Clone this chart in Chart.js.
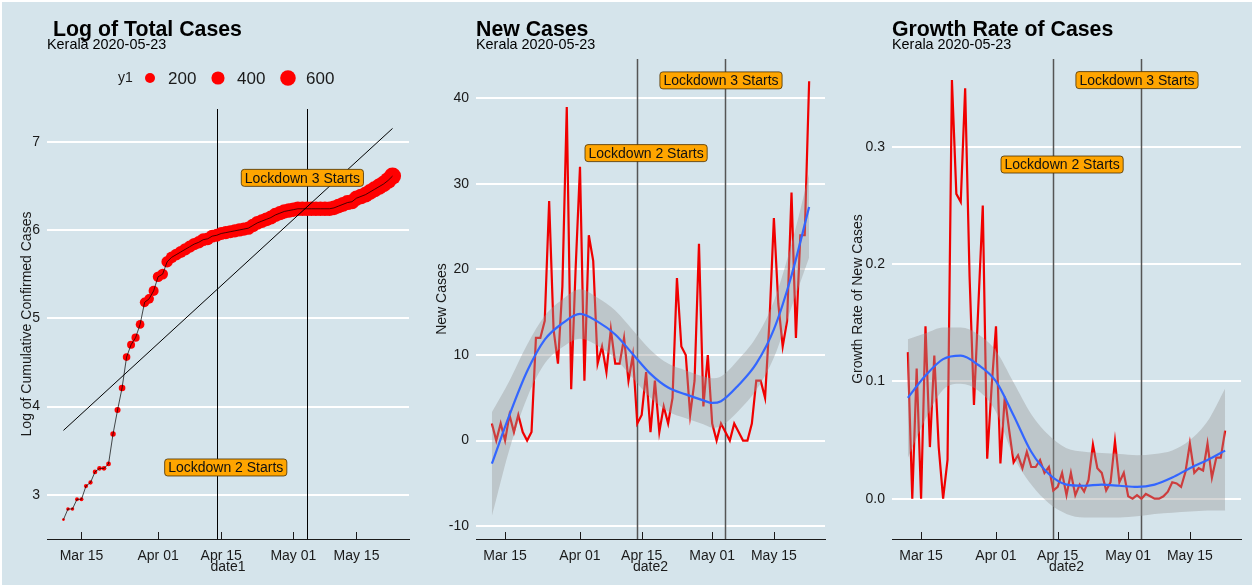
<!DOCTYPE html>
<html>
<head>
<meta charset="utf-8">
<title>Kerala COVID-19 cases</title>
<script src="https://cdn.jsdelivr.net/npm/chart.js@4.4.0/dist/chart.umd.min.js"></script>
<style>
  html, body { margin: 0; padding: 0; background: #d5e4eb; }
  #wrap { position: relative; width: 1254px; height: 587px; }
  .panel { position: absolute; top: 0; width: 418px; height: 587px; }
  #frame {
    position: absolute; left: 0; top: 0; width: 1254px; height: 587px;
    box-sizing: border-box; border: 2px solid #ffffff; pointer-events: none;
  }
</style>
</head>
<body>
<div id="wrap">
  <div class="panel" style="left:0"><canvas id="totalChart" width="418" height="587"></canvas></div>
  <div class="panel" style="left:418px"><canvas id="newChart" width="418" height="587"></canvas></div>
  <div class="panel" style="left:836px"><canvas id="growthChart" width="418" height="587"></canvas></div>
  <div id="frame"></div>
</div>
<script>
// Days are counted from 1 March 2020 (11 Mar = 10, 23 May = 83)
const totalStartDay = 10;
const dailyStartDay = 11;

// log of cumulative confirmed cases, 11 Mar .. 23 May
const logTotalCases = [
  2.72, 2.84, 2.84, 2.95, 2.95, 3.10, 3.14, 3.26, 3.30, 3.30,
  3.35, 3.69, 3.96, 4.21, 4.56, 4.70, 4.78, 4.93, 5.18, 5.22,
  5.31, 5.47, 5.50, 5.64, 5.69, 5.72, 5.75, 5.78, 5.81, 5.84,
  5.86, 5.89, 5.90, 5.93, 5.94, 5.96, 5.97, 5.98, 5.99, 6.00,
  6.01, 6.02, 6.05, 6.08, 6.10, 6.12, 6.14, 6.17, 6.19, 6.21,
  6.22, 6.23, 6.24, 6.24, 6.24, 6.24, 6.24, 6.24, 6.24, 6.24,
  6.25, 6.27, 6.29, 6.31, 6.32, 6.36, 6.38, 6.40, 6.43, 6.46,
  6.49, 6.52, 6.56, 6.61
];

// linear trend on the log scale (end points)
const fitDays = [10, 83];
const fitLog = [3.73, 7.15];

// daily new cases, 12 Mar .. 23 May
const newCases = [
  2, 0, 2, 0, 3, 1, 3, 1, 0, 1,
  12, 12, 14, 28, 13, 9, 18, 39, 6, 20,
  32, 7, 24, 21, 9, 11, 8, 13, 9, 9,
  12, 7, 10, 2, 3, 8, 1, 7, 1, 4,
  2, 5, 19, 11, 10, 3, 7, 23, 4, 10,
  2, 0, 2, 1, 0, 2, 1, 0, 0, 2,
  7, 7, 5, 14, 26, 16, 11, 14, 29, 12,
  24, 24, 42
];

// daily growth rate of new cases, 12 Mar .. 23 May
const growthRate = [
  0.125, 0.000, 0.111, 0.000, 0.147, 0.044, 0.122, 0.044, 0.000, 0.033,
  0.357, 0.260, 0.253, 0.350, 0.190, 0.080, 0.165, 0.250, 0.034, 0.095,
  0.147, 0.030, 0.087, 0.058, 0.031, 0.037, 0.026, 0.040, 0.027, 0.027,
  0.033, 0.022, 0.027, 0.007, 0.010, 0.022, 0.003, 0.022, 0.003, 0.012,
  0.006, 0.016, 0.046, 0.026, 0.022, 0.007, 0.014, 0.049, 0.014, 0.022,
  0.002, 0.000, 0.003, 0.000, 0.004, 0.002, 0.000, 0.000, 0.002, 0.006,
  0.014, 0.013, 0.010, 0.023, 0.047, 0.022, 0.026, 0.024, 0.047, 0.018,
  0.035, 0.035, 0.058
];

// loess fit of new cases with its confidence band
const newSmoothDays = [11, 15, 19, 23, 27, 31, 35, 39, 43, 47, 51, 55, 59, 61, 63, 67, 71, 75, 79, 83];
const newSmooth = [-2.7, 3.0, 8.1, 11.8, 13.7, 14.8, 13.9, 12.4, 10.1, 7.8, 6.2, 5.4, 4.7, 4.4, 4.6, 6.5, 9.0, 13.0, 19.3, 27.3];
const newUpper  = [3.3, 7.0, 11.2, 14.6, 16.5, 17.7, 16.7, 15.2, 12.9, 10.6, 9.0, 8.2, 7.5, 7.3, 7.5, 9.5, 12.1, 16.3, 23.0, 31.2];
const newLower  = [-8.8, -1.0, 5.0, 9.0, 10.9, 11.9, 11.1, 9.6, 7.3, 5.0, 3.4, 2.6, 1.9, 1.5, 1.7, 3.5, 5.9, 9.7, 15.6, 21.4];

// loess fit of growth rate with its confidence band
const growthSmoothDays = [11, 15, 19, 23, 27, 31, 35, 39, 43, 47, 51, 55, 59, 63, 67, 71, 75, 79, 83];
const growthSmooth = [0.086, 0.105, 0.119, 0.122, 0.114, 0.100, 0.071, 0.040, 0.021, 0.012, 0.011, 0.012, 0.011, 0.010, 0.012, 0.018, 0.026, 0.033, 0.041];
const growthUpper  = [0.136, 0.141, 0.146, 0.146, 0.140, 0.126, 0.099, 0.072, 0.054, 0.043, 0.040, 0.039, 0.038, 0.037, 0.038, 0.041, 0.050, 0.066, 0.094];
const growthLower  = [0.035, 0.068, 0.093, 0.098, 0.092, 0.074, 0.036, 0.012, -0.004, -0.013, -0.016, -0.016, -0.016, -0.015, -0.013, -0.012, -0.011, -0.010, -0.010];

// lockdown markers
const lockdownDays = [44, 64];
const lockdownLabels = ['Lockdown 2 Starts', 'Lockdown 3 Starts'];
const labelDays = [46, 63];
const totalLabelY = [3.31, 6.59];
const newLabelY = [33.6, 42.1];
const growthLabelY = [0.285, 0.357];

// axes
const xTickDays = [14, 31, 45, 61, 75];
const xTickLabels = ['Mar 15', 'Apr 01', 'Apr 15', 'May 01', 'May 15'];
const totalTicks = [3, 4, 5, 6, 7];
const newTicks = [-10, 0, 10, 20, 30, 40];
const growthTicks = [0, 0.1, 0.2, 0.3];
const legendCases = [200, 400, 600];

const FONT = "'Liberation Sans', Arial, Helvetica, sans-serif";
const TEXT = '#1a1a1a';

const toPoints = (days, values) => values.map((v, i) => ({ x: days[i], y: v }));
const seq = (start, values) => values.map((v, i) => ({ x: start + i, y: v }));

// point size grows with the square root of the case count
const minCases = Math.exp(Math.min(...logTotalCases));
const maxCases = Math.exp(Math.max(...logTotalCases));
function radiusFor(cases) {
  const t = Math.max(0, (cases - minCases) / (maxCases - minCases));
  return 1.42 * (1 + 5 * Math.sqrt(t));
}

function xScale(min, max) {
  return {
    type: 'linear',
    min, max,
    afterBuildTicks: s => { s.ticks = xTickDays.map(v => ({ value: v })); },
    afterFit: s => { s.height = 48; },
    grid: { display: false, drawTicks: false },
    border: { display: true, color: TEXT, width: 1 },
    ticks: {
      autoSkip: false, maxRotation: 0, padding: 9,
      color: TEXT, font: { family: FONT, size: 14 },
      callback: v => xTickLabels[xTickDays.indexOf(v)]
    }
  };
}

function yScale(min, max, ticks, width, fmt) {
  return {
    type: 'linear',
    min, max,
    afterBuildTicks: s => { s.ticks = ticks.map(v => ({ value: v })); },
    afterFit: s => { s.width = width; },
    grid: { color: '#ffffff', lineWidth: 2, drawTicks: false },
    border: { display: false },
    ticks: { padding: 7, color: TEXT, font: { family: FONT, size: 14 }, callback: fmt }
  };
}

// vertical lockdown lines, inward tick marks, labels and panel texts
function decorations(cfg) {
  return {
    id: 'decorations',
    beforeDatasetsDraw(chart) {
      const { ctx, chartArea: a, scales: { x } } = chart;
      ctx.save();
      ctx.strokeStyle = cfg.vlineColor;
      ctx.lineWidth = cfg.vlineWidth;
      lockdownDays.forEach(d => {
        const px = Math.round(x.getPixelForValue(d)) + 0.5;
        ctx.beginPath();
        ctx.moveTo(px, a.top);
        ctx.lineTo(px, a.bottom);
        ctx.stroke();
      });
      ctx.restore();
    },
    afterDatasetsDraw(chart) {
      const { ctx, chartArea: a, scales: { x, y } } = chart;
      ctx.save();
      ctx.strokeStyle = TEXT;
      ctx.lineWidth = 1;
      xTickDays.forEach(d => {
        const px = Math.round(x.getPixelForValue(d)) + 0.5;
        ctx.beginPath();
        ctx.moveTo(px, a.bottom - 7);
        ctx.lineTo(px, a.bottom);
        ctx.stroke();
      });

      ctx.font = `14px ${FONT}`;
      ctx.textAlign = 'center';
      ctx.textBaseline = 'middle';
      lockdownLabels.forEach((text, i) => {
        const cx = x.getPixelForValue(labelDays[i]);
        const cy = y.getPixelForValue(cfg.labelY[i]);
        const w = ctx.measureText(text).width + 7;
        const h = 17;
        ctx.beginPath();
        ctx.roundRect(cx - w / 2, cy - h / 2, w, h, 3);
        ctx.fillStyle = '#ffa500';
        ctx.fill();
        ctx.strokeStyle = '#4a3000';
        ctx.lineWidth = 0.8;
        ctx.stroke();
        ctx.fillStyle = '#111111';
        ctx.fillText(text, cx, cy + 1);
      });
      ctx.restore();
    },
    afterDraw(chart) {
      const { ctx, chartArea: a } = chart;
      ctx.save();
      ctx.fillStyle = '#000000';
      ctx.textAlign = 'left';
      ctx.textBaseline = 'alphabetic';
      ctx.font = `bold 21.3px ${FONT}`;
      ctx.fillText(cfg.title, cfg.titleX, 36);
      ctx.font = `14.4px ${FONT}`;
      ctx.fillText('Kerala 2020-05-23', cfg.subtitleX, 49);

      ctx.fillStyle = TEXT;
      ctx.font = `14px ${FONT}`;
      ctx.textAlign = 'center';
      ctx.fillText(cfg.xTitle, (a.left + a.right) / 2, 571);

      ctx.save();
      ctx.translate(cfg.yTitleX, (a.top + a.bottom) / 2);
      ctx.rotate(-Math.PI / 2);
      ctx.textBaseline = 'middle';
      ctx.fillText(cfg.yTitle, 0, 0);
      ctx.restore();

      if (cfg.legend) {
        ctx.textAlign = 'left';
        ctx.font = `14px ${FONT}`;
        ctx.fillText('y1', 118, 82);
        const cxs = [150, 218, 288];
        const lxs = [168, 237, 306];
        ctx.font = `17px ${FONT}`;
        legendCases.forEach((c, i) => {
          ctx.beginPath();
          ctx.arc(cxs[i], 78, radiusFor(c), 0, Math.PI * 2);
          ctx.fillStyle = '#ff0000';
          ctx.fill();
          ctx.fillStyle = TEXT;
          ctx.fillText(String(c), lxs[i], 84);
        });
      }
      ctx.restore();
    }
  };
}

function baseOptions(x, y, padding) {
  return {
    responsive: false,
    animation: false,
    events: [],
    layout: { padding },
    plugins: { legend: { display: false }, tooltip: { enabled: false } },
    scales: { x, y }
  };
}

// Panel 1: log of total cases
new Chart(document.getElementById('totalChart'), {
  type: 'line',
  data: {
    datasets: [
      { data: toPoints(fitDays, fitLog), borderColor: '#000000', borderWidth: 1, pointRadius: 0, order: 0 },
      { data: seq(totalStartDay, logTotalCases), borderColor: '#000000', borderWidth: 0.7, pointRadius: 0, order: 1 },
      {
        data: seq(totalStartDay, logTotalCases), showLine: false, order: 2,
        pointRadius: c => radiusFor(Math.exp(c.raw.y)),
        pointBackgroundColor: '#ff0000', pointBorderWidth: 0
      }
    ]
  },
  options: baseOptions(
    xScale(6.35, 86.65),
    yScale(2.5, 7.37, totalTicks, 47, v => String(v)),
    { top: 109, right: 9, bottom: 0, left: 0 }
  ),
  plugins: [decorations({
    title: 'Log of Total Cases', titleX: 53, subtitleX: 47,
    xTitle: 'date1', yTitle: 'Log of Cumulative Confirmed Cases', yTitleX: 27,
    labelY: totalLabelY, vlineColor: '#000000', vlineWidth: 1, legend: true
  })]
});

// Panel 2: new cases with loess band
new Chart(document.getElementById('newChart'), {
  type: 'line',
  data: {
    datasets: [
      { data: seq(dailyStartDay, newCases), borderColor: '#f00000', borderWidth: 2.2, pointRadius: 0, order: 3 },
      {
        data: toPoints(newSmoothDays, newUpper), borderWidth: 0, pointRadius: 0,
        cubicInterpolationMode: 'monotone', fill: '+1', backgroundColor: 'rgba(153,153,153,0.4)', order: 2
      },
      { data: toPoints(newSmoothDays, newLower), borderWidth: 0, pointRadius: 0, cubicInterpolationMode: 'monotone', order: 2 },
      {
        data: toPoints(newSmoothDays, newSmooth), borderColor: '#3366ff', borderWidth: 2.2, pointRadius: 0,
        cubicInterpolationMode: 'monotone', order: 1
      }
    ]
  },
  options: baseOptions(
    xScale(7.4, 86.6),
    yScale(-11.5, 44.6, newTicks, 58, v => String(v)),
    { top: 59, right: 11, bottom: 0, left: 0 }
  ),
  plugins: [decorations({
    title: 'New Cases', titleX: 58, subtitleX: 58,
    xTitle: 'date2', yTitle: 'New Cases', yTitleX: 24,
    labelY: newLabelY, vlineColor: '#555555', vlineWidth: 1.5, legend: false
  })]
});

// Panel 3: growth rate with loess band
new Chart(document.getElementById('growthChart'), {
  type: 'line',
  data: {
    datasets: [
      { data: seq(dailyStartDay, growthRate), borderColor: '#f00000', borderWidth: 2.2, pointRadius: 0, order: 3 },
      {
        data: toPoints(growthSmoothDays, growthUpper), borderWidth: 0, pointRadius: 0,
        cubicInterpolationMode: 'monotone', fill: '+1', backgroundColor: 'rgba(153,153,153,0.4)', order: 2
      },
      { data: toPoints(growthSmoothDays, growthLower), borderWidth: 0, pointRadius: 0, cubicInterpolationMode: 'monotone', order: 2 },
      {
        data: toPoints(growthSmoothDays, growthSmooth), borderColor: '#3366ff', borderWidth: 2.2, pointRadius: 0,
        cubicInterpolationMode: 'monotone', order: 1
      }
    ]
  },
  options: baseOptions(
    xScale(7.4, 86.6),
    yScale(-0.0344, 0.375, growthTicks, 56, v => v.toFixed(1)),
    { top: 59, right: 13, bottom: 0, left: 0 }
  ),
  plugins: [decorations({
    title: 'Growth Rate of Cases', titleX: 56, subtitleX: 56,
    xTitle: 'date2', yTitle: 'Growth Rate of New Cases', yTitleX: 22,
    labelY: growthLabelY, vlineColor: '#555555', vlineWidth: 1.5, legend: false
  })]
});
</script>
</body>
</html>
